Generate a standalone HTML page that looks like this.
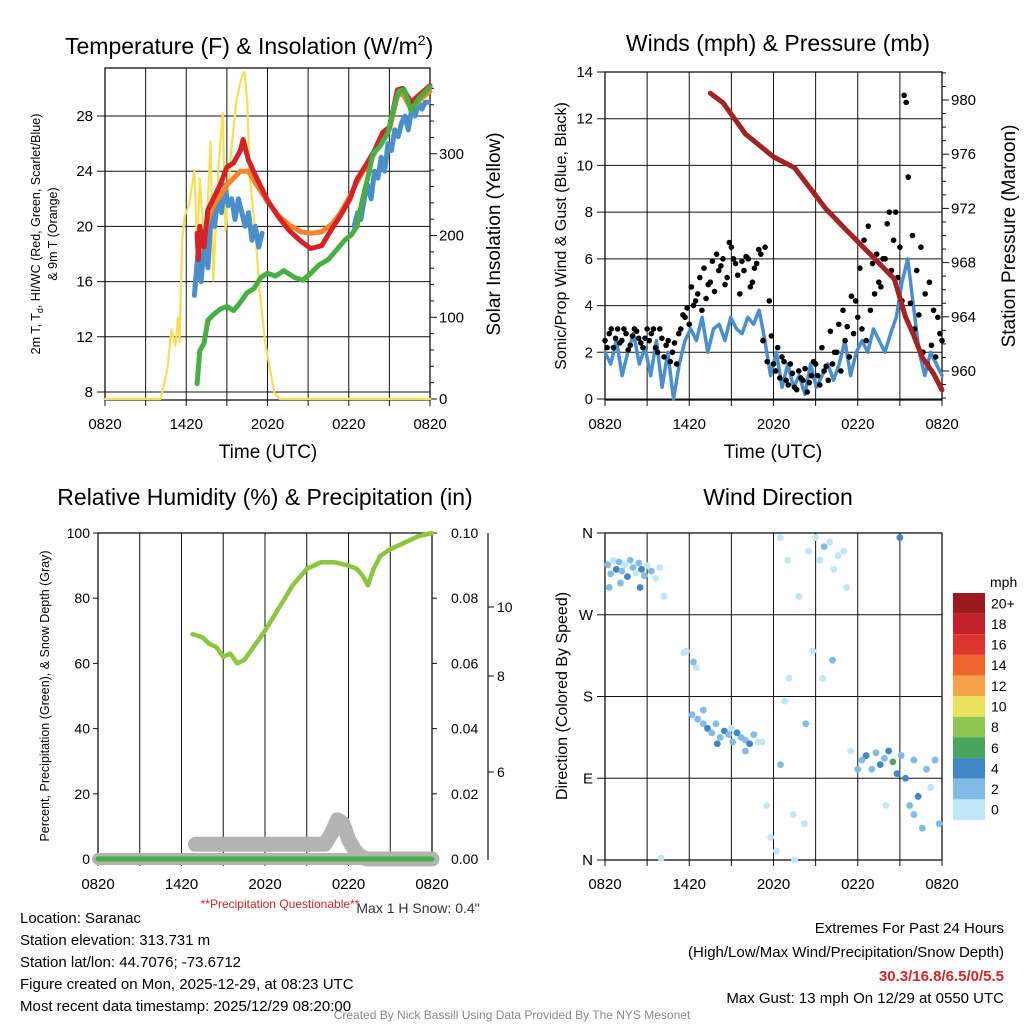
<!DOCTYPE html>
<html><head><meta charset="utf-8">
<style>
html,body{margin:0;padding:0;background:#fff;}
svg{display:block;font-family:"Liberation Sans",Arial,sans-serif;}
</style></head>
<body>
<svg id="c" width="1024" height="1024" viewBox="0 0 1024 1024" xmlns="http://www.w3.org/2000/svg">
<rect width="1024" height="1024" fill="#fff"/>
<g id="g1"></g>
<g id="g2"></g>
<g id="g3"></g>
<g id="g4"></g>
<g id="txt">
<text x="65" y="54" font-size="23">Temperature (F) &amp; Insolation (W/m<tspan font-size="14" dy="-9">2</tspan><tspan dy="9">)</tspan></text>
<text x="778" y="51" font-size="23" text-anchor="middle">Winds (mph) &amp; Pressure (mb)</text>
<text x="265" y="505" font-size="23" text-anchor="middle">Relative Humidity (%) &amp; Precipitation (in)</text>
<text x="778" y="505" font-size="23" text-anchor="middle">Wind Direction</text>
<text x="268" y="458" font-size="19" text-anchor="middle">Time (UTC)</text>
<text x="773" y="458" font-size="19" text-anchor="middle">Time (UTC)</text>
<text transform="translate(40,234) rotate(-90)" font-size="12.5" text-anchor="middle">2m T, T<tspan font-size="9" dy="3">d</tspan><tspan dy="-3">, HI/WC (Red, Green, Scarlet/Blue)</tspan></text>
<text transform="translate(57,234) rotate(-90)" font-size="12.5" text-anchor="middle">&amp; 9m T (Orange)</text>
<text transform="translate(500,234) rotate(-90)" font-size="19" text-anchor="middle">Solar Insolation (Yellow)</text>
<text transform="translate(566,236) rotate(-90)" font-size="16" text-anchor="middle">Sonic/Prop Wind &amp; Gust (Blue, Black)</text>
<text transform="translate(1015,236) rotate(-90)" font-size="19" text-anchor="middle">Station Pressure (Maroon)</text>
<text transform="translate(49,696) rotate(-90)" font-size="12.5" text-anchor="middle">Percent, Precipitation (Green), &amp; Snow Depth (Gray)</text>
<text transform="translate(567,696) rotate(-90)" font-size="16" text-anchor="middle">Direction (Colored By Speed)</text>
<text x="280" y="908" font-size="12" fill="#d62728" text-anchor="middle">**Precipitation Questionable**</text>
<text x="418" y="913" font-size="14" fill="#333" text-anchor="middle">Max 1 H Snow: 0.4"</text>
<g font-size="15">
<text x="20" y="923">Location: Saranac</text>
<text x="20" y="945">Station elevation: 313.731 m</text>
<text x="20" y="967">Station lat/lon: 44.7076; -73.6712</text>
<text x="20" y="989">Figure created on Mon, 2025-12-29, at 08:23 UTC</text>
<text x="20" y="1011">Most recent data timestamp: 2025/12/29 08:20:00</text>
</g>
<g font-size="15" text-anchor="end">
<text x="1004" y="933">Extremes For Past 24 Hours</text>
<text x="1004" y="957">(High/Low/Max Wind/Precipitation/Snow Depth)</text>
<text x="1004" y="981" fill="#d62728" font-weight="bold">30.3/16.8/6.5/0/5.5</text>
<text x="1004" y="1003">Max Gust: 13 mph On 12/29 at 0550 UTC</text>
</g>
<text x="512" y="1019" font-size="12" fill="#888" text-anchor="middle">Created By Nick Bassill Using Data Provided By The NYS Mesonet</text>
</g>
</svg>
<script>
// ---- data ----
const xTickLabels = ["0820","1420","2020","0220","0820"];
const insolH = [0,4.1,4.6,4.9,5.2,5.4,5.5,5.7,5.9,6.2,6.6,6.8,7.0,7.4,7.8,8.0,8.4,8.7,8.9,9.3,9.7,10.1,10.3,10.5,10.7,11.1,11.4,11.8,12.2,12.5,12.9,24];
const insolV = [0,0,35,85,65,100,70,195,225,237,280,185,270,170,315,145,290,350,205,300,365,395,400,365,270,205,135,72,35,8,0,0];
const redH = [6.8,6.9,7.0,7.3,7.6,8.0,8.5,9.0,9.5,10.0,10.2,10.6,11.2,12.0,12.8,13.6,14.5,15.2,16.0,16.8,17.4,18.1,18.6,19.3,19.9,20.5,21.0,21.6,22.0,22.6,23.3,24];
const redV = [19.5,17.6,20,18.5,21.2,22,23,24.3,24.6,25.5,26.3,24.8,23.5,21.9,20.7,19.7,18.9,18.4,18.6,19.9,20.8,22,23.4,24.5,25.5,26.8,27.2,29.9,30,29,29.6,30.2];
const orangeH = [6.9,7.3,7.6,8.0,8.5,9.0,9.5,10.0,10.6,11.2,12.0,12.8,13.6,14.5,15.2,16.0,16.8,17.4,18.1,18.6,19.3,19.9,20.5,21.0,21.6,22.0,22.6,23.3,24];
const orangeV = [18,19,20.5,21.5,22.2,23,23.5,24,24,23,21.8,20.8,20.1,19.6,19.5,19.6,20.2,21,22.2,23.2,24.4,25.3,26.5,27,29.5,29.6,28.5,29.2,29.8];
const greenH = [6.8,7.0,7.3,7.6,8.0,8.5,9.0,9.5,10.0,10.5,11.0,11.5,12.0,12.6,13.2,14.0,14.6,15.2,15.8,16.5,17.1,17.7,18.2,18.6,19.0,19.4,19.8,20.3,20.9,21.3,21.7,22.1,22.6,23.2,24];
const greenV = [8.6,11,11.5,13.2,13.6,14,14.2,13.9,14.5,15.2,15.5,16.3,16.6,16.4,16.8,16.3,16.1,16.6,17.2,17.6,18.3,19,19.4,20,21.9,23.5,25.3,25.8,26.8,28.5,29.8,29.9,28.4,29.3,30.1];
const hiStartA = 6.6, hiStartB = 18.4, hiStep = 0.25;
const hiA = [15,18,16,19,17,21,20,22.5,21,23,21.5,22,20.5,22,21,20,21,19,20,18.5,19.5];
const hiB = [20,21,20.5,22,23,22,24,23.5,25,24,26,25.5,27,26.5,27.5,28,27,28.5,28,29,28.5,29,29];
const tempTicks = [8,12,16,20,24,28];
const insolTicks = [0,100,200,300];

const pressH = [7.5,8.4,10.0,12.0,13.5,15.7,17.0,19.0,20.6,21.4,22.0,22.6,23.4,24];
const pressV = [980.5,979.8,977.5,975.8,975.0,972.0,970.6,968.5,966.8,964.0,962.6,961.0,959.8,958.6];
const windV = [2,1.5,2.5,1,2,2.8,1.5,2.2,1,2.5,0.5,2,0,1.5,2.5,3,2.5,3.5,2,3,3.2,2.5,3.5,3,2.8,3.5,3.2,3.8,2.5,1,2,0.5,1.5,0.5,1,0.2,1.5,0.5,1,1.5,0.8,1.5,2.5,1,2,2.5,2,3,2.5,2,2.8,3.5,5,6,4,2,1,2,1.5,1];
const gustV = [2.5,2.8,2.2,3,2.5,2.8,2.3,3,2.6,2.2,3,2.8,2.2,3,1.8,2.5,2,1.5,3,3.5,3.2,4,4.5,3.8,4.3,5,4.6,5.5,6,5.2,6.5,5.8,4.5,5.5,6,5,5.8,6.2,6.5,4.2,1.5,2.2,1.8,0.8,1.5,0.5,1.2,0.8,0.3,1,1.5,0.6,1.2,0.8,1.5,2,1.2,2.5,1.8,2.8,3.5,3,2.5,3.8,4.5,5,6,7.5,5.5,8,6.5,13,9.5,7,5.5,6.5,4.5,5,3.8,3.5,2.5];
const gust2V = [2.2,3,2.6,2.4,3,2.1,2.7,2.9,2.4,2.6,2.5,3,2,2.6,2.3,1.6,2.4,2.8,3.6,3.9,4.8,4.2,5.2,5.6,4.9,5.9,6.2,5.7,4.9,6.7,6,5.3,5.9,6.1,4.8,5.6,6.4,2.5,1.6,2.7,1.2,0.9,1.6,0.6,1.1,0.4,0.9,1.3,0.7,1.6,1,2.2,1.4,2.9,2,3.2,3.8,3.1,4.4,4.2,5.6,6.8,7.4,5.8,6.2,4.8,6.0,8,6.8,5.2,4.2,12.7,4.1,3,3.6,2,1.5,2.3,1.8,2.8];
const windTicks = [0,2,4,6,8,10,12,14];
const pressTicks = [960,964,968,972,976,980];

const rhH = [6.8,7.5,8.0,8.5,9.0,9.5,10.0,10.5,11.0,12.0,13.0,14.0,15.0,16.0,17.0,18.0,18.6,19.0,19.4,19.8,20.3,21.0,22.0,23.0,24];
const rhV = [69,68,66,65,62,63,60,61,64,70,77,84,89,91,91,90,89,87,84,89,93,95,97,99,100];
const snowH = [7.0,16.3,16.8,17.2,17.6,18.0,18.4,18.8,19.3,24];
const snowV = [4.5,4.5,8,12,11,6,3,1,0,0];
const precipH = [0,24];
const precipV = [0,0];
const rhTicks = [0,20,40,60,80,100];
const precipTicks = ["0.00","0.02","0.04","0.06","0.08","0.10"];
const snowAxisTicks = [6,8,10];

const dirH = [0.2,0.4,0.6,0.8,1.0,1.2,1.4,1.6,1.8,2.0,2.2,2.4,2.6,2.8,3.0,3.3,3.6,3.9,0.3,1.1,2.5,4.2,5.6,5.8,6.5,6.3,6.2,6.6,7.0,7.3,7.6,7.9,8.2,8.5,8.8,9.1,9.4,9.7,10.0,10.3,10.6,10.9,7.0,8.0,9.0,10.0,11.2,11.5,11.8,12.2,12.5,12.8,13.1,13.4,13.8,13.0,12.5,13.5,14.2,14.3,14.5,15.0,15.3,15.6,16.0,16.3,16.6,17.0,14.8,15.5,16.2,17.2,17.5,18.0,18.3,18.6,19.0,19.3,19.6,19.9,20.2,20.5,20.8,21.1,21.4,21.7,22.0,22.3,22.6,22.9,23.2,23.5,23.8,21.0,20.0,22.0,4.0];
const dirDeg = [325,315,330,320,328,318,325,312,330,322,316,327,320,313,324,318,310,322,300,305,300,290,228,230,212,218,160,155,150,145,140,150,135,142,138,130,140,135,132,128,138,130,165,128,145,120,130,60,25,10,105,175,200,50,290,330,355,0,40,150,340,355,330,345,350,320,335,340,230,200,220,300,120,100,110,115,100,118,105,112,120,108,95,115,90,60,50,70,35,100,80,110,40,355,60,110,2];
const dirSpd = [2,3,1,4,2,3,1,4,2,3,1,2,4,3,1,2,1,1,3,2,4,1,1,1,1,2,2,3,2,4,3,2,3,4,2,3,4,2,3,4,2,1,2,4,1,2,1,1,1,1,2,1,1,1,1,1,1,1,1,2,1,1,1,2,1,1,1,1,1,1,2,1,1,2,3,4,3,2,4,3,5,6,4,3,4,3,2,4,3,2,1,3,2,4,1,2,1];
const cbLabels = ["20+","18","16","14","12","10","8","6","4","2","0"];
const cbColors = ["#9c1a1c","#c3202a","#df332f","#f0652d","#f7a04a","#e9e05c","#8cc653","#4aa65f","#3e86c4","#80bce6","#c0e7f8"];
const dirLabels = ["N","E","S","W","N"];

// ---- helpers ----
const NS = "http://www.w3.org/2000/svg";
function mk(parent, tag, attrs){ const e=document.createElementNS(NS,tag); for(const k in attrs) e.setAttribute(k,attrs[k]); parent.appendChild(e); return e; }
function pathD(xs, ys){ let d=""; for(let i=0;i<xs.length;i++){ d+=(i?"L":"M")+xs[i].toFixed(1)+","+ys[i].toFixed(1);} return d; }

function frame(g, x0,y0,x1,y1, name){
  for(let i=0;i<=8;i++){ const x=x0+(x1-x0)*i/8;
    const l=mk(g,"line",{x1:x,y1:y0,x2:x,y2:y1+6,stroke:"#111","stroke-width":1});
    
    
  }
  const r=mk(g,"rect",{x:x0,y:y0,width:x1-x0,height:y1-y0,fill:"none",stroke:"#111","stroke-width":1.3});
  
  
  xTickLabels.forEach((t,i)=>{ const x=x0+(x1-x0)*i/4;
    const tx=mk(g,"text",{x:x,y:y1+29,"font-size":15,"text-anchor":"middle"}); tx.textContent=t;
    
    
  });
}
function hgrid(g,x0,x1,y,label,side,name){
  const l=mk(g,"line",{x1:x0-8,y1:y,x2:x1,y2:y,stroke:"#111","stroke-width":1});
  
  
  const tx = side==="l" ? x0-12 : x1+7;
  const t=mk(g,"text",{x:tx,y:y+5,"font-size":15,"text-anchor":side==="l"?"end":"start"}); t.textContent=label;
  
  
}
function minor(g,x,y,len){
  const l=mk(g,"line",{x1:x,y1:y,x2:x+len,y2:y,stroke:"#111","stroke-width":1});
  
  
}
function tick(g,x,y,dx,label,name){
  const l=mk(g,"line",{x1:x,y1:y,x2:x+dx,y2:y,stroke:"#111"});
  
  
  const t=mk(g,"text",{x:x+dx+(dx>0?3:-3),y:y+5,"font-size":14,"text-anchor":dx>0?"start":"end"}); t.textContent=label;
  
  
}
function series(g,xs,ys,color,w,name){
  const p=mk(g,"path",{d:pathD(xs,ys),fill:"none",stroke:color,"stroke-width":w,"stroke-linejoin":"round","stroke-linecap":"round"});
  
  
  return p;
}

// ---- panel 1 ----
(function(){
  const g=document.getElementById("g1");
  const x0=105,x1=430,y0=68,y1=400;
  const X=h=>x0+h*(x1-x0)/24;
  const T=v=>392-(v-8)*(276/20);
  const S=v=>399-v*0.8175;
  frame(g,x0,y0,x1,y1,"temp");
  tempTicks.forEach(v=>{ hgrid(g,x0,x1,T(v),String(v),"l","temp-tick-label"); });
  for(let v=0;v<=380;v+=20) minor(g,x1,S(v),v%100===0?7:4);
  insolTicks.forEach(v=>{ const t=mk(g,"text",{x:x1+9,y:S(v)+5,"font-size":15}); t.textContent=String(v);
    
     });
  series(g,insolH.map(X),insolV.map(S),"#f7df55",2.2,"insolation-line");
  series(g,hiA.map((v,i)=>X(hiStartA+i*hiStep)),hiA.map(T),"#4a8fcc",5,"heat-index-line-1");
  series(g,hiB.map((v,i)=>X(hiStartB+i*hiStep)),hiB.map(T),"#4a8fcc",5,"heat-index-line-2");
  series(g,orangeH.map(X),orangeV.map(T),"#f5842a",5,"temp-9m-line");
  series(g,redH.map(X),redV.map(T),"#d62226",5,"temp-2m-line");
  series(g,greenH.map(X),greenV.map(T),"#47b045",5,"dewpoint-line");
})();

// ---- panel 2 ----
(function(){
  const g=document.getElementById("g2");
  const x0=605,x1=942,y0=72,y1=400;
  const X=h=>x0+h*(x1-x0)/24;
  const W=v=>399-v*(327/14);
  const P=v=>371-(v-960)*(271/20);
  frame(g,x0,y0,x1,y1,"winds");
  windTicks.forEach(v=>{ hgrid(g,x0,x1,W(v),String(v),"l","wind-tick-label"); });
  for(let v=958;v<=982;v++) minor(g,x1,P(v),v%4===0?7:4);
  pressTicks.forEach(v=>{ const y=P(v);
    const t=mk(g,"text",{x:x1+9,y:y+5,"font-size":15}); t.textContent=String(v);
    
     });
  const ws=24/(windV.length-1);
  series(g,windV.map((v,i)=>X(i*ws)),windV.map(W),"#4a8fcc",3.5,"wind-speed-line");
  const gs=24/(gustV.length-1);
  gustV.forEach((v,i)=>{ const c=mk(g,"circle",{cx:X(i*gs),cy:W(v),r:2.8,fill:"#000"});
    
     });
  gust2V.forEach((v,i)=>{ const c=mk(g,"circle",{cx:X(i*gs+gs/2),cy:W(v),r:2.8,fill:"#000"});
    
     });
  series(g,pressH.map(X),pressV.map(P),"#a52222",5,"pressure-line");
})();

// ---- panel 3 ----
(function(){
  const g=document.getElementById("g3");
  const x0=98,x1=432,y0=533,y1=860;
  const X=h=>x0+h*(x1-x0)/24;
  const R=v=>859-v*3.26;
  frame(g,x0,y0,x1,y1,"humidity");
  rhTicks.forEach((v,i)=>{ const y=R(v);
    const l=mk(g,"line",{x1:x0-5,y1:y,x2:x0,y2:y,stroke:"#111"});
    
    
    const t=mk(g,"text",{x:x0-8,y:y+5,"font-size":14,"text-anchor":"end"}); t.textContent=String(v);
    
    
    const l2=mk(g,"line",{x1:x1,y1:y,x2:x1+5,y2:y,stroke:"#111"});
    
    
    const t2=mk(g,"text",{x:x1+19,y:y+5,"font-size":14}); t2.textContent=precipTicks[i];
    
    
  });
  const ax=mk(g,"line",{x1:488,y1:y0,x2:488,y2:y1,stroke:"#111","stroke-width":1.2});
  
  
  const snowY={6:772,8:676,10:607};
  snowAxisTicks.forEach(v=>{ tick(g,488,snowY[v],6,String(v),"snow-tick-label"); });
  series(g,[X(0),X(24)],[R(0),R(0)],"#b3b3b3",12,"snow-depth-base");
  series(g,snowH.map(X),snowV.map(R),"#b3b3b3",15,"snow-depth-line");
  series(g,precipH.map(X),precipV.map(R),"#47b045",5,"precip-line");
  series(g,rhH.map(X),rhV.map(R),"#8cc63f",4.5,"rh-line");
})();

// ---- panel 4 ----
(function(){
  const g=document.getElementById("g4");
  const x0=605,x1=942,y0=533,y1=860;
  const X=h=>x0+h*(x1-x0)/24;
  const D=v=>860-v*(327/360);
  frame(g,x0,y0,x1,y1,"direction");
  dirLabels.forEach((t,i)=>{ hgrid(g,x0,x1,D(i*90),t,"l","direction-tick-label"); });
  dirH.forEach((h,i)=>{ const idx=Math.min(10,Math.floor(dirSpd[i]/2)); const c=mk(g,"circle",{cx:X(h),cy:D(dirDeg[i]),r:3.4,fill:cbColors[10-idx]});
    
     });
  const cb=document.createElementNS(NS,"g"); g.appendChild(cb);
  
  
  const t0=mk(cb,"text",{x:990,y:587,"font-size":14}); t0.textContent="mph";
  
  
  const bh=227/11;
  cbColors.forEach((c,i)=>{ const r=mk(cb,"rect",{x:953,y:593+i*bh,width:32,height:bh,fill:c});
    
    
    const t=mk(cb,"text",{x:991,y:593+i*bh+bh/2+5,"font-size":14}); t.textContent=cbLabels[i];
    
     });
})();
</script>
</body></html>
